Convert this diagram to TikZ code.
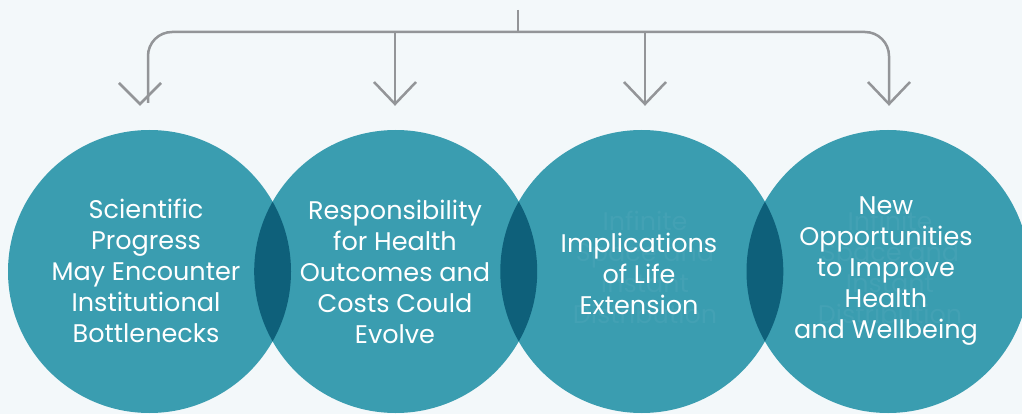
\documentclass[tikz,border=0pt]{standalone}
\usepackage{fontspec}
\setmainfont{Poppins}
\definecolor{bgc}{HTML}{F3F8FA}
\definecolor{teal1}{HTML}{3A9DB0}
\definecolor{lensc}{HTML}{0E607A}
\definecolor{linec}{HTML}{939598}
\definecolor{ghostc}{HTML}{43A1B4}
\begin{document}
\begin{tikzpicture}[x=1pt,y=-1pt,
  bubble/.style={circle,fill=teal1,minimum size=283pt,inner sep=0pt},
  label/.style={text=white,align=center,font=\fontsize{25.5}{31}\selectfont},
  ghost/.style={text=ghostc,align=center,font=\fontsize{25.5}{31}\selectfont},
  conn/.style={draw=linec,line width=2.5pt},
  vhead/.style={draw=linec,line width=2.5pt}]
\useasboundingbox[fill=bgc] (0,0) rectangle (1022,414);
% circles
\node[bubble] (c1) at (149.5,271.5) {};
\node[bubble] (c2) at (395.7,271.5) {};
\node[bubble] (c3) at (641.8,271.5) {};
\node[bubble] (c4) at (888,271.5) {};
% lenses
\begin{scope}
  \clip (c1.center) circle (141.5);
  \fill[lensc] (c2.center) circle (141.5);
\end{scope}
\begin{scope}
  \clip (c2.center) circle (141.5);
  \fill[lensc] (c3.center) circle (141.5);
\end{scope}
\begin{scope}
  \clip (c3.center) circle (141.5);
  \fill[lensc] (c4.center) circle (141.5);
\end{scope}
% faint ghost text
\node[ghost] (g3) at (645,267) {Infinite\\Space and\\Instant\\Distribution};
\node[ghost] (g4) at (890,267) {Infinite\\Space and\\Instant\\Distribution};
% labels
\node[label] (t1) at (146,271) {Scientific\\Progress\\May Encounter\\Institutional\\Bottlenecks};
\node[label] (t2) at (395,272) {Responsibility\\for Health\\Outcomes and\\Costs Could\\Evolve};
\node[label] (t3) at (639,274) {Implications\\of Life\\Extension};
\node[label] (t4) at (886,271) {New\\Opportunities\\to Improve\\Health\\and Wellbeing};
% connectors
\coordinate (top) at (518,10);
\coordinate (hub) at (518,32);
\coordinate (e1) at (148,103);
\coordinate (e2) at (395,103);
\coordinate (e3) at (645,103);
\coordinate (e4) at (889,103);
\draw[conn] (top) -- (hub);
\draw[conn,rounded corners=24pt] (e1) -- (e1 |- hub) -- (e4 |- hub) -- (e4);
\draw[conn] (e2 |- hub) -- (e2);
\draw[conn] (e3 |- hub) -- (e3);
% arrowheads
\draw[vhead] (119,83) -- (140,104) -- (161,83);
\draw[vhead] ([xshift=-21pt,yshift=21pt]e2) -- ([yshift=-1pt]e2) -- ([xshift=21pt,yshift=21pt]e2);
\draw[vhead] ([xshift=-21pt,yshift=21pt]e3) -- ([yshift=-1pt]e3) -- ([xshift=21pt,yshift=21pt]e3);
\draw[vhead] ([xshift=-21pt,yshift=21pt]e4) -- ([yshift=-1pt]e4) -- ([xshift=21pt,yshift=21pt]e4);
\end{tikzpicture}
\end{document}
